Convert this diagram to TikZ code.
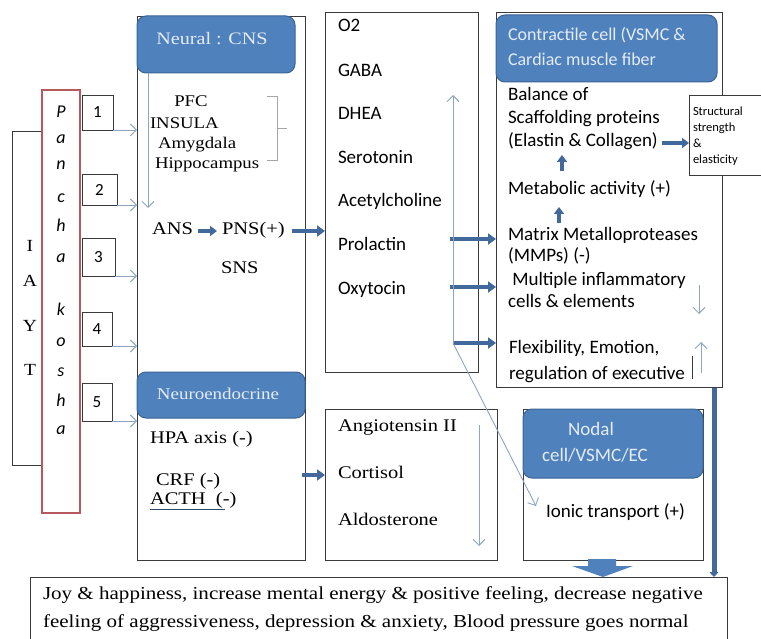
\documentclass[tikz,border=0pt]{standalone}
\usepackage{fontspec}
\setmainfont{Liberation Serif}[FakeStretch=1.15]
\newfontfamily\calfont{Carlito}
\usetikzlibrary{arrows.meta}

\definecolor{hdrfill}{HTML}{4F81BD}
\definecolor{hdrline}{HTML}{3A6496}
\definecolor{hdrtext}{HTML}{E4ECF7}
\definecolor{flowblue}{HTML}{41699B}
\definecolor{thinblue}{HTML}{8EA5C2}
\definecolor{koshared}{HTML}{B5595C}
\definecolor{boxgray}{HTML}{3A3A3A}

\tikzset{
  span/.style args={#1/#2/#3/#4}{anchor=north west, minimum width={(#3-#1)*1pt},
    minimum height={(#4-#2)*1pt}, inner sep=0pt, outer sep=0pt},
  plainbox/.style={draw=boxgray, line width=0.9pt, fill=white},
  hdrbox/.style={draw=hdrline, fill=hdrfill, line width=1pt, rounded corners=9pt},
  kosha/.style={draw=koshared, line width=2.4pt, fill=white},
  numbox/.style={plainbox, font=\calfont\fontsize{17}{20}\selectfont},
  lbl/.style={inner sep=0pt, outer sep=0pt, anchor=west, text height=0.66em, text depth=0pt},
  clbl/.style={lbl, anchor=center},
  serifA/.style={font=\fontsize{16.3}{19}\selectfont},
  serifB/.style={font=\fontsize{17.8}{21}\selectfont},
  sansA/.style={font=\calfont\fontsize{19}{23}\selectfont},
  sansH/.style={font=\calfont\fontsize{18}{22}\selectfont, text=hdrtext},
  sansS/.style={font=\calfont\fontsize{12.5}{15}\selectfont},
  letter/.style={inner sep=0pt, anchor=base, font=\calfont\itshape\fontsize{18}{20}\selectfont},
  tarr/.style={draw=flowblue, line width=4.6pt, -{Triangle[length=8pt,width=11pt]}},
  smallarr/.style={draw=flowblue, line width=4pt, -{Triangle[length=7pt,width=10pt]}},
  thinarr/.style={draw=thinblue, line width=0.9pt, -{Straight Barb[length=6pt,width=12pt]}},
}

\begin{document}
\begin{tikzpicture}[x=1pt,y=-1pt]
\useasboundingbox (0,0) rectangle (761,639);
\clip (0,0) rectangle (761,639);

% ---------- left column: IAYT and Pancha kosha ----------
\node[plainbox, span=12/131/44/465] (iayt) at (12,131) {};
\node[kosha, span=42/90/80/513] (pk) at (42,90) {};
\foreach \ch/\yy [count=\i] in {I/248, A/283, Y/328, T/372}
  \node[clbl, font=\fontsize{17}{20}\selectfont] (iay\i) at (30,\yy) {\ch};
\foreach \ch/\yy [count=\i] in {P/112, a/138, n/164, c/197, h/226, a/257, k/310, o/340, s/370, h/400, a/428}
  \node[letter] (pkl\i) at (61,\yy+6) {\ch};

\node[numbox, span=82/95/113/130] (b1) at (82,95) {1};
\node[numbox, span=82/174/117/205] (b2) at (82,174) {2};
\node[numbox, span=82/238/115/276] (b3) at (82,238) {3};
\node[numbox, span=82/312/112/346] (b4) at (82,312) {4};
\node[numbox, span=82/383/112/421] (b5) at (82,383) {5};

% ---------- neural / neuroendocrine column ----------
\node[plainbox, span=137/16/305/560] (cns) at (137,16) {};
\node[hdrbox, span=137/16/295/73] (cnshdr) at (137,16) {};
\node[clbl, font=\fontsize{17.5}{21}\selectfont, text=hdrtext] (cnst) at (212,41) {Neural : CNS};

\foreach \b in {b1,b2,b3,b4,b5}
  \draw[thinarr] (\b.south east) -- (\b.south east -| cns.west);

\coordinate (cnsdrop) at (148,73);
\draw[thinarr] (cnsdrop) -- (148,208);

\node[clbl, serifA] (pfc) at (191,103) {PFC};
\node[lbl, serifA] (insula) at (150,125) {INSULA};
\node[lbl, serifA] (amyg) at (158,145) {Amygdala};
\node[lbl, serifA] (hippo) at (155,165) {Hippocampus};
\draw[draw=gray!70, line width=0.8pt] (267,96) -- (277,96) -- (277,160) -- (267,160)
  (277,128) -- (287,128);

\node[lbl, serifB] (ans) at (152,231) {ANS};
\node[lbl, serifB] (pns) at (222,231) {PNS(+)};
\node[lbl, serifB] (sns) at (221,270) {SNS};
\draw[smallarr] ([xshift=5pt]ans.east) -- ([xshift=-5pt]pns.west);

\node[hdrbox, span=137/372/305/418] (neuhdr) at (137,372) {};
\node[clbl, font=\fontsize{16.5}{20}\selectfont, text=hdrtext] (neut) at (218,396) {Neuroendocrine};
\node[lbl, serifB] (hpa) at (150,440) {HPA axis (-)};
\node[lbl, serifB] (crf) at (156,482) {CRF (-)};
\node[lbl, serifB] (acth) at (150,501) {ACTH\ \ (-)};
\draw[draw=flowblue!70!black, line width=0.8pt] (150,509) -- (225,509);

% ---------- messenger column ----------
\node[plainbox, span=325/12/478/372] (mid) at (325,12) {};
\foreach \t/\yy [count=\i] in {O2/28, GABA/73, DHEA/116, Serotonin/160, Acetylcholine/203, Prolactin/247, Oxytocin/291}
  \node[lbl, sansA] (m\i) at (338,\yy) {\t};

\node[plainbox, span=325/409/497/560] (angio) at (325,409) {};
\node[lbl, serifB] (ang) at (338,428) {Angiotensin II};
\node[lbl, serifB] (cort) at (338,475) {Cortisol};
\node[lbl, serifB] (aldo) at (338,522) {Aldosterone};
\coordinate (angtop) at (479,425);
\draw[thinarr] (angtop) -- (479,546);

% ---------- contractile cell column ----------
\node[plainbox, span=496/12/722/387] (ctr) at (496,12) {};
\node[hdrbox, span=496/15/717/82] (ctrhdr) at (496,15) {};
\node[lbl, sansH] (ch1) at (508,37) {Contractile cell (VSMC \&};
\node[lbl, sansH] (ch2) at (508,62) {Cardiac muscle fiber};

\node[lbl, sansA] (r1) at (508,97) {Balance of};
\node[lbl, sansA] (r2) at (508,120) {Scaffolding proteins};
\node[lbl, sansA] (r3) at (508,143) {(Elastin \& Collagen)};
\node[lbl, sansA] (r4) at (508,191) {Metabolic activity (+)};
\node[lbl, sansA] (r5) at (508,237) {Matrix Metalloproteases};
\node[lbl, sansA] (r6) at (508,258) {(MMPs) (-)};
\node[lbl, sansA] (r7) at (508,282) {\ Multiple inflammatory};
\node[lbl, sansA] (r8) at (508,304) {cells \& elements};
\node[lbl, sansA] (r9) at (509,350) {Flexibility, Emotion,};
\begin{scope}
  \clip (496,360) rectangle (722,384);
  \node[lbl, sansA] (r10) at (509,376) {regulation of executive};
\end{scope}

\coordinate (up1) at (562,171);
\draw[smallarr] (up1) -- (562,155);
\coordinate (up2) at (559,223);
\draw[smallarr] (up2) -- (559,207);

\node[plainbox, span=689/95/775/175] (struct) at (689,95) {};
\node[lbl, sansS] (s1) at (693,112) {Structural};
\node[lbl, sansS] (s2) at (693,128) {strength};
\node[lbl, sansS] (s3) at (693,144) {\&};
\node[lbl, sansS] (s4) at (693,160) {elasticity};
\draw[smallarr] ([xshift=4pt]r3.east) -- (r3.east -| struct.west);

\coordinate (dn1) at (699,285);
\draw[thinarr] (dn1) -- (699,314);
\coordinate (upf) at (701,373);
\draw[thinarr] (upf) -- (701,342);
\draw[draw=boxgray, line width=0.9pt] (692,356) -- (692,379);

% ---------- nodal cell ----------
\node[plainbox, span=523/409/703/560] (nodal) at (523,409) {};
\node[hdrbox, span=523/409/703/478] (nodalhdr) at (523,409) {};
\node[clbl, font=\calfont\fontsize{19}{23}\selectfont, text=hdrtext] (nd1) at (591,432) {Nodal};
\node[lbl, font=\calfont\fontsize{19}{23}\selectfont, text=hdrtext] (nd2) at (542,458) {cell/VSMC/EC};
\node[lbl, sansA] (ionic) at (546,514) {Ionic transport (+)};

% ---------- flows between columns ----------
\draw[tarr] ([xshift=7pt]pns.east) -- (pns.east -| mid.west);
\coordinate (neuout) at (302,475);
\draw[tarr] (neuout) -- (neuout -| angio.west);

\coordinate (pa) at (450,239);
\coordinate (pb) at (450,287);
\coordinate (pc) at (453,343);
\draw[tarr] (pa) -- (pa -| ctr.west);
\draw[tarr] (pb) -- (pb -| ctr.west);
\draw[tarr] (pc) -- (pc -| ctr.west);

\coordinate (ionin) at (536,506);
\draw[thinarr] (pc) -- (453,95);
\draw[thinarr] (pc) -- (ionin);

% ---------- outcome ----------
\node[plainbox, span=30/577/727/660] (out) at (30,577) {};
\node[lbl, font=\fontsize{18.3}{22}\selectfont] (o1) at (43,596)
  {Joy \& happiness, increase mental energy \& positive feeling, decrease negative};
\node[lbl, font=\fontsize{18.3}{22}\selectfont] (o2) at (43,624)
  {feeling of aggressiveness, depression \& anxiety, Blood pressure goes normal};

\coordinate (rv) at (714,388);
\draw[draw=flowblue, line width=5pt, -{Triangle[length=5pt,width=9pt]}] (rv) -- (rv |- out.north);

\fill[hdrfill] (588,559) -- (616,559) -- (616,566) -- (633,566) -- (603,577)
  -- (572,566) -- (588,566) -- cycle;
\end{tikzpicture}
\end{document}
